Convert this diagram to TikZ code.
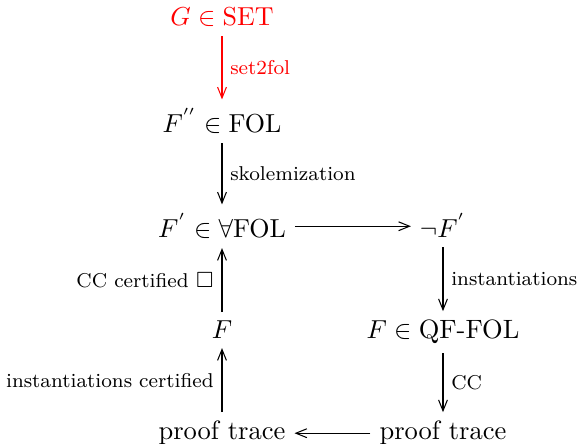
\documentclass[tikz,border=0pt]{standalone}
\usepackage{amssymb}
\usetikzlibrary{arrows.meta}
\begin{document}
\begin{tikzpicture}[x=0.3846pt,y=-0.3846pt,
  obj/.style={anchor=base,inner sep=3.3pt,font=\fontsize{10.2}{12}\selectfont},
  lbl/.style={font=\fontsize{7.7}{9}\selectfont,inner sep=3pt},
  arr/.style={-{Straight Barb[length=4.2pt,width=3.4pt]},line width=0.4pt}]
\useasboundingbox (0,0) rectangle (581,444);
\node[obj,text=red] (g) at (222,26) {$G\in\mathrm{SET}$};
\node[obj] (fpp) at (222,133) {$F^{''}\in\mathrm{FOL}$};
\node[obj] (fp) at (222,238) {$F^{'}\in\forall\mathrm{FOL}$};
\node[obj] (nf) at (443,238) {$\neg F^{'}$};
\node[obj] (f) at (222,339) {$F$};
\node[obj] (qf) at (443,339) {$F\in\mbox{QF-FOL}$};
\node[obj] (ptl) at (222,440) {proof trace};
\node[obj] (ptr) at (443,440) {proof trace};
\draw[arr,red] (g.south) -- node[lbl,right,text=red] {set2fol} (fpp.north);
\draw[arr] (fpp.south) -- node[lbl,right] {skolemization} (fp.north);
\draw[arr] (fp.east) -- (fp.east -| nf.west);
\draw[arr] (nf.south) -- node[lbl,right] {instantiations} (qf.north);
\draw[arr] (qf.south) -- node[lbl,right] {CC} (ptr.north);
\draw[arr] (ptr.west) -- (ptr.west -| ptl.east);
\draw[arr] (ptl.north) -- node[lbl,left] {instantiations certified} (f.south);
\draw[arr] (f.north) -- node[lbl,left] {CC certified $\square$} (fp.south);
\end{tikzpicture}
\end{document}
